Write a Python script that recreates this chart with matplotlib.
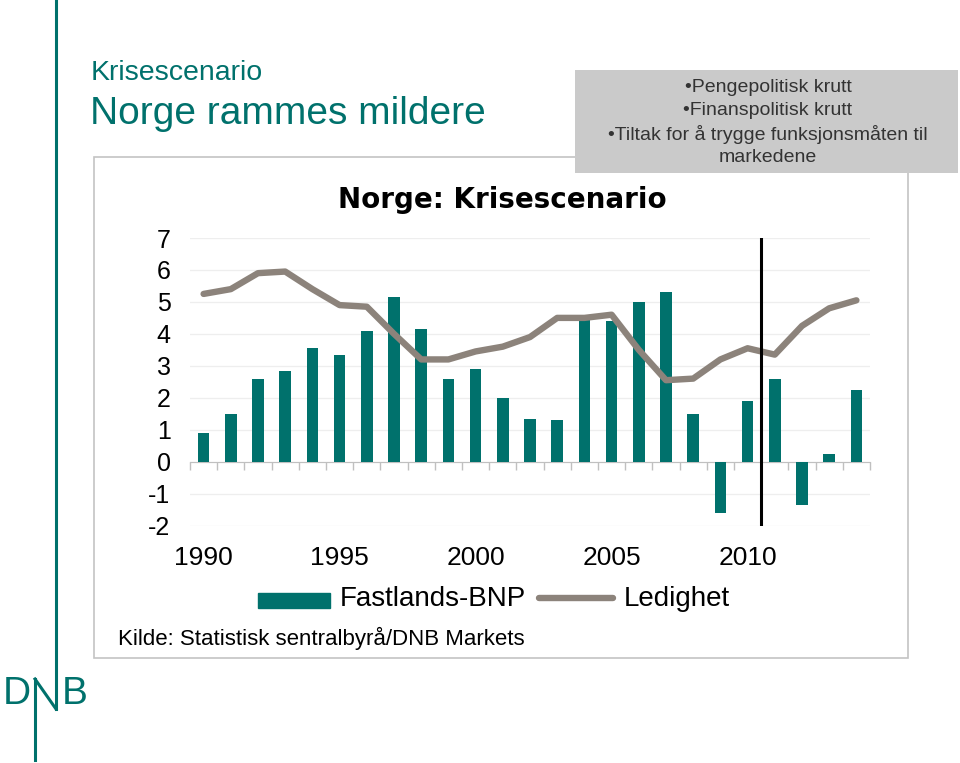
import numpy as np
import matplotlib
matplotlib.use("Agg")
import matplotlib.pyplot as plt
from matplotlib.patches import Rectangle
from matplotlib.lines import Line2D

plt.rcParams['font.family'] = ['Liberation Sans', 'DejaVu Sans']
plt.rcParams['axes.unicode_minus'] = False

# data
years = np.arange(1990, 2015)
bnp = [0.9, 1.5, 2.6, 2.85, 3.55, 3.35, 4.1, 5.15, 4.15, 2.6, 2.9, 2.0, 1.35,
       1.3, 4.45, 4.4, 5.0, 5.3, 1.5, -1.6, 1.9, 2.6, -1.35, 0.25, 2.25]
ledighet = [5.25, 5.4, 5.9, 5.95, 5.4, 4.9, 4.85, 4.0, 3.2, 3.2, 3.45, 3.6, 3.9,
            4.5, 4.5, 4.6, 3.5, 2.55, 2.6, 3.2, 3.55, 3.35, 4.25, 4.8, 5.05]
year_labels = [1990, 1995, 2000, 2005, 2010]
prognose_start = 2010.5
bullets = ["\u2022Pengepolitisk krutt", "\u2022Finanspolitisk krutt",
           "\u2022Tiltak for \u00e5 trygge funksjonsm\u00e5ten til", "markedene"]

TEAL = '#00716C'
GREY_LINE = '#8C837B'
W, H = 960, 763


def fx(x):
    return x / W


def fy(y):
    return 1 - y / H


fig = plt.figure(figsize=(9.6, 7.63), dpi=100)

# outer frame of the chart
fig.patches.append(Rectangle((fx(94), fy(658)), fx(908) - fx(94), fy(157) - fy(658),
                             transform=fig.transFigure, fill=False,
                             edgecolor='#C4C4C4', linewidth=1.2, zorder=0))

ymin, ymax = -2, 7
ax = fig.add_axes([fx(190), fy(525.6), fx(870) - fx(190), fy(238) - fy(525.6)])
ax.set_xlim(1989.5, 2014.5)
ax.set_ylim(ymin, ymax)
for v in range(ymin, ymax + 1):
    ax.axhline(v, color='#EEEEEE', linewidth=0.9, zorder=0)

ax.bar(years, bnp, width=0.42, color=TEAL, zorder=2)
ax.plot(years, ledighet, color=GREY_LINE, linewidth=4.6, solid_capstyle='round',
        solid_joinstyle='round', zorder=3)
ax.axvline(prognose_start, color='black', linewidth=2.2, zorder=4)

for s in ax.spines.values():
    s.set_visible(False)
ax.set_yticks(range(ymin, ymax + 1))
ax.tick_params(axis='y', length=0, labelsize=18, pad=14)
ax.set_xticks(year_labels)
ax.tick_params(axis='x', length=0, labelsize=19, pad=15)

# zero line with ticks between bars
sec = ax.secondary_xaxis((0 - ymin) / (ymax - ymin))
sec.set_xticks(np.arange(years[0] - 0.5, years[-1] + 1, 1))
sec.tick_params(length=6, color='#C0C0C0', labelbottom=False, width=1)
sec.spines['bottom'].set_color('#C0C0C0')
for k in ['top', 'left', 'right']:
    sec.spines[k].set_visible(False)

fig.text(fx(502), fy(200), "Norge: Krisescenario", ha='center', va='center',
         fontsize=20, fontweight='bold', family='DejaVu Sans')

# legend
fig.patches.append(Rectangle((fx(258), fy(608)), fx(330) - fx(258), fy(593) - fy(608),
                             transform=fig.transFigure, color=TEAL))
fig.text(fx(340), fy(599), "Fastlands-BNP", ha='left', va='center', fontsize=20)
fig.lines.append(Line2D([fx(539), fx(613)], [fy(598), fy(598)], transform=fig.transFigure,
                        color=GREY_LINE, linewidth=4.6, solid_capstyle='round'))
fig.text(fx(624), fy(599), "Ledighet", ha='left', va='center', fontsize=20)

fig.text(fx(118), fy(638), "Kilde: Statistisk sentralbyr\u00e5/DNB Markets", ha='left',
         va='center', fontsize=16)

# headings
fig.text(fx(91), fy(73), "Krisescenario", color=TEAL, ha='left', va='center', fontsize=20.5)
fig.text(fx(90), fy(114), "Norge rammes mildere", color=TEAL, ha='left', va='center',
         fontsize=28)

# grey info box
fig.patches.append(Rectangle((fx(575), fy(173)), fx(958) - fx(575), fy(70) - fy(173),
                             transform=fig.transFigure, facecolor='#CACACA',
                             edgecolor='none', zorder=5))
for i, t in enumerate(bullets):
    fig.text(fx(768), fy(87 + i * 23.5), t, ha='center', va='center', fontsize=14,
             color='#333333', zorder=6)

# DNB mark with the long line
fig.lines.append(Line2D([fx(56), fx(56)], [fy(0), fy(709)], transform=fig.transFigure,
                        color=TEAL, linewidth=2.2))
fig.lines.append(Line2D([fx(35), fx(56)], [fy(679), fy(709)], transform=fig.transFigure,
                        color=TEAL, linewidth=2.2))
fig.lines.append(Line2D([fx(35), fx(35)], [fy(679), fy(760)], transform=fig.transFigure,
                        color=TEAL, linewidth=2.2))
fig.text(fx(3), fy(694), "D", color=TEAL, ha='left', va='center', fontsize=28)
fig.text(fx(62), fy(694), "B", color=TEAL, ha='left', va='center', fontsize=28)

fig.savefig("out.png", dpi=100)
